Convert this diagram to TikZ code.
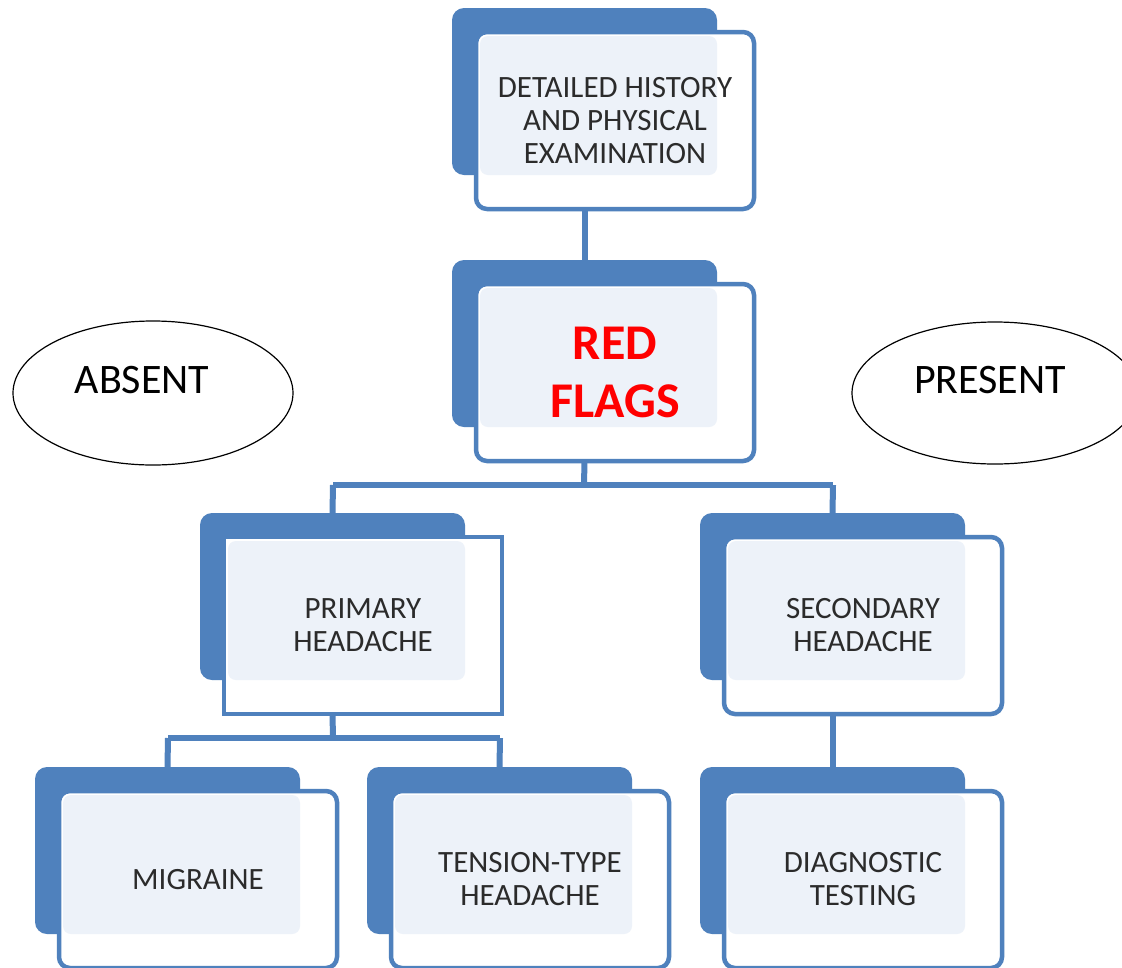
\documentclass[tikz,border=0pt]{standalone}
\usepackage{fontspec}
\setmainfont{Carlito}
\usetikzlibrary{shapes.geometric}
\definecolor{ofblue}{HTML}{4F81BD}
\definecolor{innerblue}{HTML}{EDF2F9}
\definecolor{txtgray}{HTML}{2B2B2B}
\tikzset{
  backbox/.style={fill=ofblue, rounded corners=12pt, minimum width=265pt, minimum height=167pt, inner sep=0pt, outer sep=0pt},
  frontbox/.style={draw=ofblue, line width=4.5pt, fill=white, rounded corners=11pt, minimum width=278pt, minimum height=177pt,
    inner sep=0pt, outer sep=0pt, align=center, text=txtgray, font=\fontsize{31}{33}\selectfont,
    path picture={\fill[innerblue, rounded corners=8pt] ([shift={(4pt,-4pt)}]path picture bounding box.north west) rectangle ([shift={(241pt,-143pt)}]path picture bounding box.north west);}},
  sharp/.style={sharp corners},
  redtext/.style={text=red, font=\fontsize{50}{58}\selectfont\bfseries},
  conn/.style={draw=ofblue, line width=6pt},
  oval/.style={draw=black, line width=1.2pt, ellipse, inner sep=0pt, font=\fontsize{42}{50}\selectfont, text=black}
}
\newcommand\flowbox[5]{%
  \node[backbox] (#1B) at (#2+132.5, #3+83.5) {};
  \node[frontbox,#5] (#1) at (#2+24+139, #3+24+88.5) {#4};
}
\begin{document}
\begin{tikzpicture}[x=1pt, y=-1pt]
\clip (0,0) rectangle (1122,967);
\fill[white] (0,0) rectangle (1122,967);
\coordinate (h1) at (584,485);
\coordinate (h2) at (333,738);
\coordinate (h1l) at (333,485);
\coordinate (h1r) at (833,485);
\coordinate (h2l) at (168,738);
\coordinate (h2r) at (500,738);
\flowbox{top}{452}{8}{DETAILED HISTORY\\AND PHYSICAL\\EXAMINATION}{}
\flowbox{red}{452}{260}{RED\\FLAGS}{redtext}
\flowbox{prim}{200}{513}{PRIMARY\\HEADACHE}{sharp}
\flowbox{sec}{700}{513}{SECONDARY\\HEADACHE}{}
\flowbox{mig}{35}{767}{MIGRAINE}{}
\flowbox{ten}{367}{767}{TENSION-TYPE\\HEADACHE}{}
\flowbox{diag}{700}{767}{DIAGNOSTIC\\TESTING}{}
\draw[conn] (topB.south |- top.south) -- (redB.north);
\draw[conn] (redB.south |- red.south) -- (h1);
\draw[conn] (h1l) -- (h1r);
\draw[conn] (h1l) -- (primB.north);
\draw[conn] (h1r) -- (secB.north);
\draw[conn] (primB.south |- prim.south) -- (h2);
\draw[conn] (h2l) -- (h2r);
\draw[conn] (h2l) -- (migB.north);
\draw[conn] (h2r) -- (tenB.north);
\draw[conn] (secB.south |- sec.south) -- (diagB.north);
\node[oval, minimum width=280pt, minimum height=144pt] (absent) at (153,393) {};
\node[font=\fontsize{42}{50}\selectfont] (absentT) at (142,380) {ABSENT};
\node[oval, minimum width=286pt, minimum height=142pt] (present) at (995,393) {};
\node[font=\fontsize{42}{50}\selectfont] (presentT) at (990,380) {PRESENT};
\end{tikzpicture}
\end{document}
